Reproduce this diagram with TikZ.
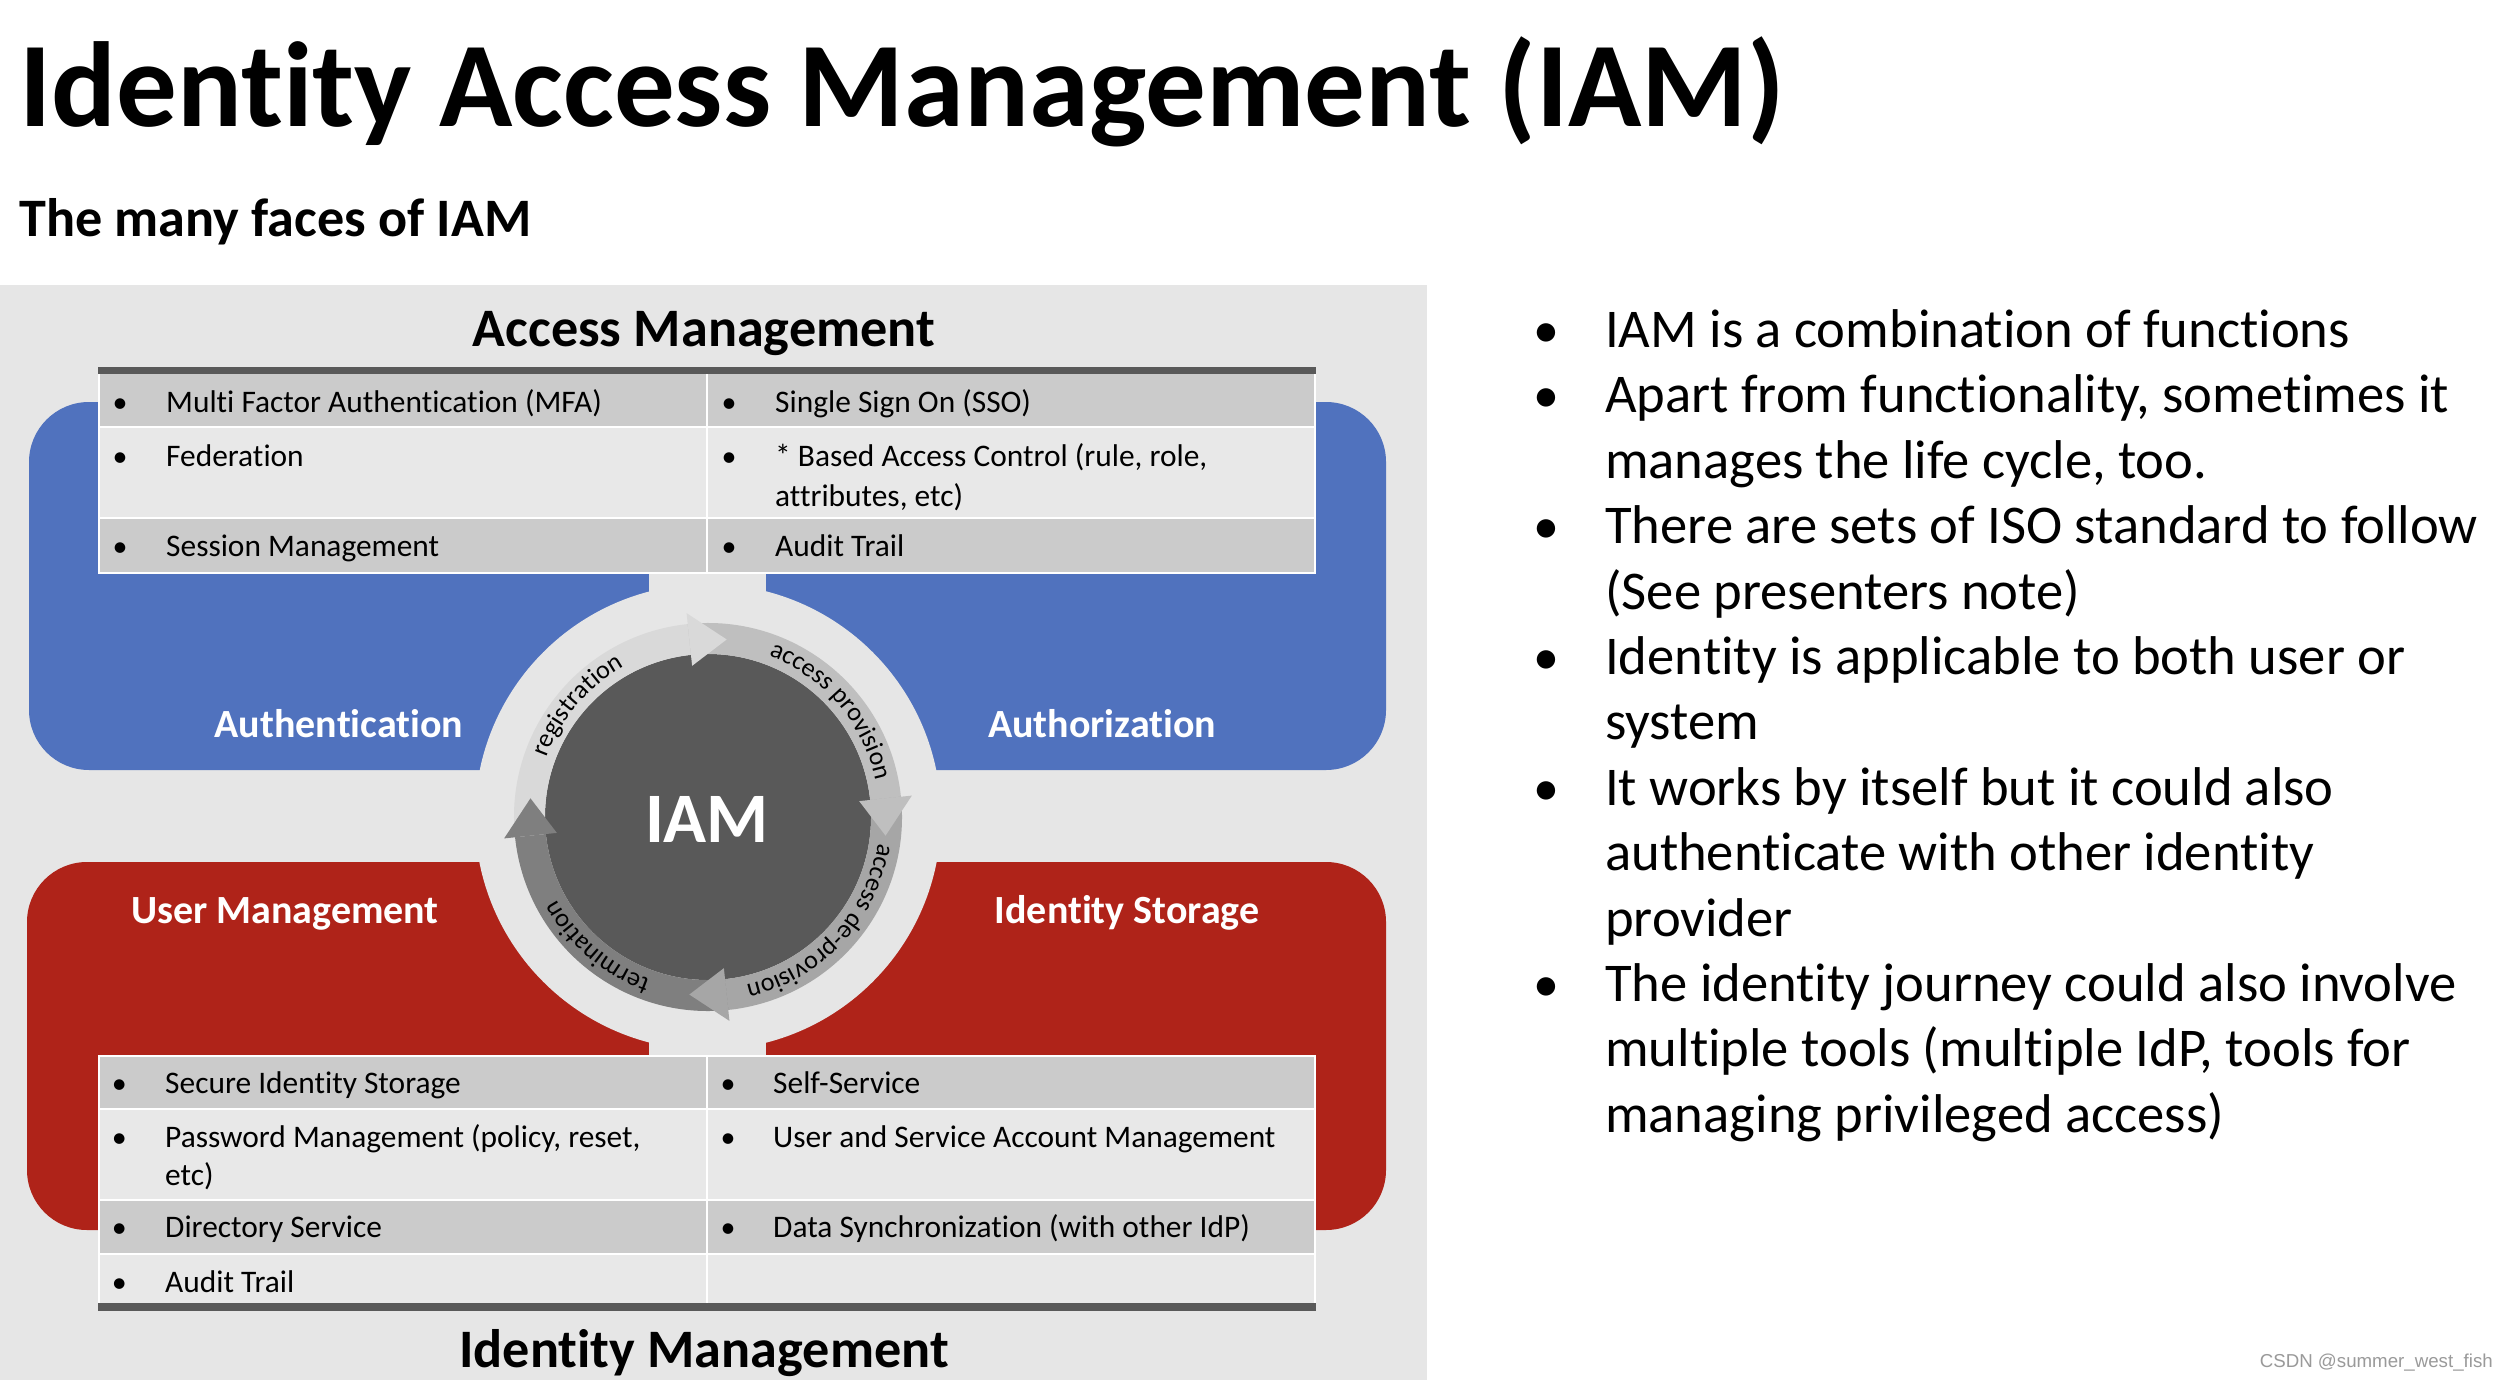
\documentclass[tikz,border=0pt]{standalone}
\usepackage{fontspec}
\setmainfont{Carlito}[Ligatures={NoCommon,NoRare,NoContextual}]
\newfontfamily\wmfont{Liberation Sans}
\usetikzlibrary{calc,decorations.text}
\definecolor{panel}{HTML}{E6E6E6}
\definecolor{rowdark}{HTML}{CBCBCB}
\definecolor{rowlight}{HTML}{E8E8E8}
\definecolor{qblue}{HTML}{5072BE}
\definecolor{qred}{HTML}{AF2319}
\definecolor{barc}{HTML}{595959}
\definecolor{core}{HTML}{595959}
\definecolor{ga}{HTML}{D9D9D9}
\definecolor{gb}{HTML}{BFBFBF}
\definecolor{gc}{HTML}{A6A6A6}
\definecolor{gd}{HTML}{7F7F7F}
\definecolor{wmgray}{HTML}{9A9A9A}
\tikzset{
  cell/.style={anchor=base west, inner sep=0pt, font=\fontsize{31.4}{36}\selectfont},
  bul/.style={anchor=base, inner sep=0pt, font=\fontsize{30}{36}\selectfont},
  head/.style={anchor=base, inner sep=0pt, font=\fontsize{54.2}{62}\selectfont\bfseries},
  quad/.style={anchor=base, inner sep=0pt, text=white, font=\fontsize{40}{48}\selectfont\bfseries},
  rtext/.style={anchor=base west, inner sep=0pt, font=\fontsize{54.6}{64}\selectfont},
  rbul/.style={anchor=base, inner sep=0pt, font=\fontsize{52}{64}\selectfont},
  tline/.style={white, line width=2pt},
  ringtext/.style={decorate, decoration={text along path, text align=center, text={|\fontsize{26}{30}\selectfont|#1}}}
}
\begin{document}
\begin{tikzpicture}[x=1pt,y=-1pt]
\useasboundingbox (0,0) rectangle (2508,1380);
\fill[white] (0,0) rectangle (2508,1380);
\fill[panel] (0,285) rectangle (1427,1380);

% quadrants
\fill[qblue, rounded corners=60pt] (29,402) rectangle (1386,770);
\fill[qred, rounded corners=60pt] (27,862) rectangle (1386,1230);
\fill[panel] (649,395) rectangle (766,1240);
\coordinate (C) at (708,817);
\fill[panel] (C) circle[radius=233];

% top table
\fill[barc] (98,367) rectangle (1316,374);
\fill[rowdark] (98,374) rectangle (1316,427);
\fill[rowlight] (98,427) rectangle (1316,518);
\fill[rowdark] (98,518) rectangle (1316,573);
\draw[tline] (99,374) -- (99,573) -- (1315,573) -- (1315,374);
\draw[tline] (98,427) -- (1316,427) (98,518) -- (1316,518) (707,374) -- (707,573);

\node[bul] (ab1) at (120,412) {•};
\node[cell] (a1) at (166,412) {Multi Factor Authentication (MFA)};
\node[bul] (ab2) at (729,412) {•};
\node[cell] (a2) at (775,412) {Single Sign On (SSO)};
\node[bul] (ab3) at (120,466) {•};
\node[cell] (a3) at (166,466) {Federation};
\node[bul] (ab4) at (729,466) {•};
\node[cell] (a4) at (775,466) {* Based Access Control (rule, role,};
\node[cell] (a4b) at (775,506) {attributes, etc)};
\node[bul] (ab5) at (120,556) {•};
\node[cell] (a5) at (166,556) {Session Management};
\node[bul] (ab6) at (729,556) {•};
\node[cell] (a6) at (775,556) {Audit Trail};

% bottom table
\fill[rowdark] (98,1055) rectangle (1316,1108.5);
\fill[rowlight] (98,1108.5) rectangle (1316,1200);
\fill[rowdark] (98,1200) rectangle (1316,1253.5);
\fill[rowlight] (98,1253.5) rectangle (1316,1303);
\draw[tline] (98.5,1303) -- (98.5,1055.5) -- (1315,1055.5) -- (1315,1303);
\draw[tline] (98,1108.5) -- (1316,1108.5) (98,1200) -- (1316,1200) (98,1253.5) -- (1316,1253.5) (706.5,1055) -- (706.5,1303);
\fill[barc] (98,1303) rectangle (1316,1311);

\node[bul] (ib1) at (119.3,1093) {•};
\node[cell] (i1) at (165,1093) {Secure Identity Storage};
\node[bul] (ib2) at (728,1093) {•};
\node[cell] (i2) at (773,1093) {Self-Service};
\node[bul] (ib3) at (119.3,1147) {•};
\node[cell] (i3) at (165,1147) {Password Management (policy, reset,};
\node[cell] (i3b) at (165,1185) {etc)};
\node[bul] (ib4) at (728,1147) {•};
\node[cell] (i4) at (773,1147) {User and Service Account Management};
\node[bul] (ib5) at (119.3,1237) {•};
\node[cell] (i5) at (165,1237) {Directory Service};
\node[bul] (ib6) at (728,1237) {•};
\node[cell] (i6) at (773,1237) {Data Synchronization (with other IdP)};
\node[bul] (ib7) at (119.3,1292) {•};
\node[cell] (i7) at (165,1292) {Audit Trail};

% headings
\node[head] (amh) at (704,346) {Access Management};
\node[head] (imh) at (704,1367) {Identity Management};

% quadrant labels
\node[quad] (qa) at (339,737) {Authentication};
\node[quad] (qb) at (1102,737) {Authorization};
\node[quad] (qc) at (285,923) {User Management};
\node[quad] (qd) at (1127,923) {Identity Storage};

% core circle
\fill[core] (C) circle[radius=163];

% ring bodies
\fill[ga] ($(C)+(-186:194)$) arc[start angle=-186, end angle=-96, radius=194] -- ($(C)+(-96:163)$) arc[start angle=-96, end angle=-186, radius=163] -- cycle;
\fill[gb] ($(C)+(-96:194)$) arc[start angle=-96, end angle=-6, radius=194] -- ($(C)+(-6:163)$) arc[start angle=-6, end angle=-96, radius=163] -- cycle;
\fill[gc] ($(C)+(-6:194)$) arc[start angle=-6, end angle=84, radius=194] -- ($(C)+(84:163)$) arc[start angle=84, end angle=-6, radius=163] -- cycle;
\fill[gd] ($(C)+(84:194)$) arc[start angle=84, end angle=174, radius=194] -- ($(C)+(174:163)$) arc[start angle=174, end angle=84, radius=163] -- cycle;

% ring heads
\fill[ga] ($(C)+(-96:152)$) -- ($(C)+(-96:205)$) -- ($(C)+(-84:178.5)$) -- cycle;
\fill[gb] ($(C)+(-6:152)$) -- ($(C)+(-6:205)$) -- ($(C)+(6:178.5)$) -- cycle;
\fill[gc] ($(C)+(84:152)$) -- ($(C)+(84:205)$) -- ($(C)+(96:178.5)$) -- cycle;
\fill[gd] ($(C)+(174:152)$) -- ($(C)+(174:205)$) -- ($(C)+(186:178.5)$) -- cycle;

% ring labels
\path[ringtext={registration}] ($(C)+(-189.5:172)$) arc[start angle=-189.5, end angle=-89.5, radius=172];
\path[ringtext={access provision}] ($(C)+(-90.8:172)$) arc[start angle=-90.8, end angle=9.2, radius=172];
\path[ringtext={access de-provision}] ($(C)+(-7:172)$) arc[start angle=-7, end angle=93, radius=172];
\path[ringtext={termination}] ($(C)+(80.5:172)$) arc[start angle=80.5, end angle=180.5, radius=172];

\node[anchor=base, inner sep=0pt, text=white, font=\fontsize{71}{78}\selectfont\bfseries] (iam) at (707,842) {IAM};

% title
\node[anchor=base west, inner sep=0pt, font=\fontsize{121}{140}\selectfont\bfseries] (title) at (19,127) {Identity Access Management (IAM)};
\node[anchor=base west, inner sep=0pt, font=\fontsize{54.2}{64}\selectfont\bfseries] (sub) at (19,237) {The many faces of IAM};

% right list
\node[rbul] (rb1) at (1546,347.5) {•};
\node[rtext] (r1) at (1605,347.5) {IAM is a combination of functions};
\node[rbul] (rb2) at (1546,412.9) {•};
\node[rtext] (r2) at (1605,412.9) {Apart from functionality, sometimes it};
\node[rtext] (r3) at (1605,478.3) {manages the life cycle, too.};
\node[rbul] (rb4) at (1546,543.7) {•};
\node[rtext] (r4) at (1605,543.7) {There are sets of ISO standard to follow};
\node[rtext] (r5) at (1605,609.1) {(See presenters note)};
\node[rbul] (rb6) at (1546,674.5) {•};
\node[rtext] (r6) at (1605,674.5) {Identity is applicable to both user or};
\node[rtext] (r7) at (1605,739.9) {system};
\node[rbul] (rb8) at (1546,805.3) {•};
\node[rtext] (r8) at (1605,805.3) {It works by itself but it could also};
\node[rtext] (r9) at (1605,870.7) {authenticate with other identity};
\node[rtext] (r10) at (1605,936.1) {provider};
\node[rbul] (rb11) at (1546,1001.5) {•};
\node[rtext] (r11) at (1605,1001.5) {The identity journey could also involve};
\node[rtext] (r12) at (1605,1066.9) {multiple tools (multiple IdP, tools for};
\node[rtext] (r13) at (1605,1132.3) {managing privileged access)};

% watermark
\node[anchor=base east, inner sep=0pt, text=wmgray, font=\wmfont\fontsize{18.7}{22}\selectfont] (wm) at (2493,1367) {CSDN @summer\_west\_fish};
\end{tikzpicture}
\end{document}
